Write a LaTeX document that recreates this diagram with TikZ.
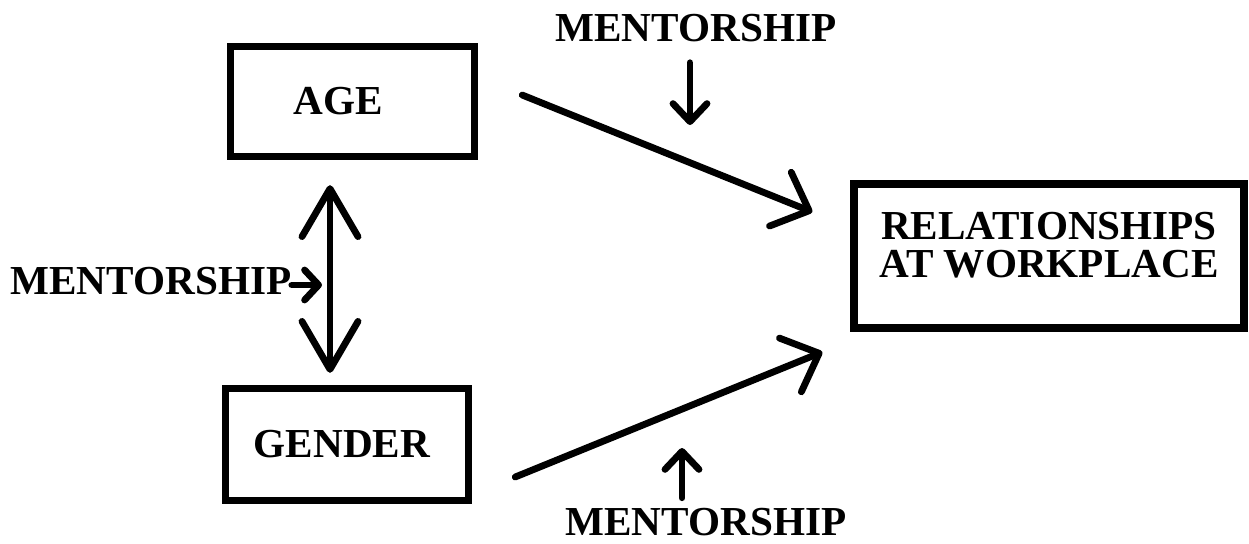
\documentclass[tikz,border=0pt]{standalone}
\usepackage{fontspec}
\setmainfont{Liberation Serif}
\usetikzlibrary{arrows.meta,positioning,calc}
\tikzset{
  bx/.style ={draw=black,line width=3.7pt,font=\fontsize{20.6pt}{19pt}\selectfont\bfseries,
              align=center,inner sep=0pt},
  lbl/.style={font=\fontsize{20.6pt}{19pt}\selectfont\bfseries,inner sep=0pt},
  ar/.style ={-{Straight Barb[length=9pt,width=17pt,round]},line width=3.4pt,line cap=round},
  big/.style={-{Straight Barb[length=15.5pt,width=29pt,round]},line width=3.4pt,line cap=round},
  dar/.style={{Straight Barb[length=24pt,width=28pt,round]}-{Straight Barb[length=24pt,width=28pt,round]},
              line width=3.4pt,line cap=round},
}

\begin{document}
\begin{tikzpicture}[x=0.5pt,y=-0.5pt]
  \useasboundingbox (0,0) rectangle (1249,543);
  % the three boxes
  \node[bx,minimum width=122pt,minimum height=55pt] (age) at (352.5,101.5){AGE\hspace*{14pt}};
  \node[bx,minimum width=121.5pt,minimum height=56pt] (gender) at (347,444.5){GENDER\hspace*{5pt}};
  \node[bx,minimum width=195pt,minimum height=72pt,text depth=11pt] (rel) at (1049,256)
    {RELATIONSHIPS\\AT WORKPLACE};
  % moderator labels
  \node[lbl] (mtop) at (696,28.5){MENTORSHIP};
  \node[lbl] (mbot) at (706,522){MENTORSHIP};
  \node[lbl] (mleft) at (151,281.5){MENTORSHIP};
  % main paths
  \draw[big] ([xshift=22pt,yshift=3.25pt]age.east) -- ([xshift=-19pt,yshift=22pt]rel.west);
  \draw[big] ([xshift=21.5pt,yshift=-16.25pt]gender.east) -- ([xshift=-14pt,yshift=-48pt]rel.west);
  \draw[dar] ([xshift=-11.25pt,yshift=-12.5pt]age.south) -- ([xshift=-8.5pt,yshift=6pt]gender.north);
  % mentorship arrows
  \coordinate (ta) at (690,125);
  \coordinate (tb) at (682,448);
  \coordinate (tl) at (322,285);
  \draw[ar,shorten <=10pt] (mtop.south -| ta) -- (ta);
  \draw[ar,shorten <=5pt] (mbot.north -| tb) -- (tb);
  \draw[ar,-{Straight Barb[length=7pt,width=15pt,round]}] (mleft.east |- tl) -- (tl);
\end{tikzpicture}
\end{document}
